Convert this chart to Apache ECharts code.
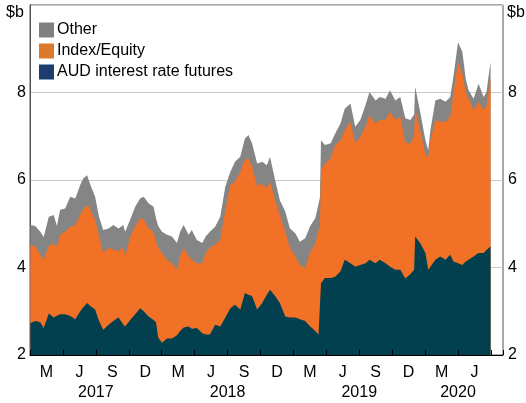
<!DOCTYPE html>
<html>
<head>
<meta charset="utf-8">
<script src="https://cdn.jsdelivr.net/npm/echarts@6/dist/echarts.min.js"></script>
<style>
    html, body { margin: 0; padding: 0; background: #fff; }
    #chart { width: 526px; height: 403px; }
</style>
</head>
<body>
<div id="chart"></div>
<script>
    // $b (AUD at bottom, Index/Equity on top, Other on top of that)
    var dates = [
        '2017-01-02', '2017-01-16', '2017-01-30', '2017-02-08', '2017-02-21', '2017-03-06', '2017-03-15', '2017-03-24',
        '2017-04-07', '2017-04-21', '2017-05-05', '2017-05-19', '2017-05-28', '2017-06-07', '2017-06-16', '2017-06-29',
        '2017-07-10', '2017-07-22', '2017-08-06', '2017-08-19', '2017-09-03', '2017-09-16', '2017-09-21', '2017-10-05',
        '2017-10-19', '2017-11-02', '2017-11-12', '2017-11-25', '2017-12-09', '2017-12-16', '2017-12-22', '2018-01-02',
        '2018-01-16', '2018-01-30', '2018-02-12', '2018-02-20', '2018-03-01', '2018-03-15', '2018-03-24', '2018-04-07',
        '2018-04-22', '2018-05-01', '2018-05-13', '2018-05-28', '2018-06-11', '2018-06-25', '2018-07-09', '2018-07-22',
        '2018-08-06', '2018-08-19', '2018-08-29', '2018-09-08', '2018-09-22', '2018-10-06', '2018-10-19', '2018-10-28',
        '2018-11-11', '2018-11-24', '2018-12-09', '2018-12-22', '2019-01-07', '2019-01-19', '2019-02-03', '2019-02-16',
        '2019-03-01', '2019-03-10', '2019-03-14', '2019-03-17', '2019-03-28', '2019-04-13', '2019-04-25', '2019-05-10',
        '2019-05-22', '2019-06-07', '2019-06-20', '2019-07-04', '2019-07-19', '2019-07-30', '2019-08-16', '2019-08-28',
        '2019-09-13', '2019-09-25', '2019-10-10', '2019-10-24', '2019-11-07', '2019-11-21', '2019-12-01', '2019-12-04',
        '2019-12-18', '2020-01-02', '2020-01-10', '2020-01-16', '2020-01-30', '2020-02-12', '2020-02-26', '2020-03-10',
        '2020-03-19', '2020-04-01', '2020-04-13', '2020-04-22', '2020-04-30', '2020-05-14', '2020-05-28', '2020-06-11',
        '2020-06-19', '2020-06-23', '2020-06-30'
    ];
    var aud = [
        2.73, 2.78, 2.75, 2.62, 2.95, 2.86, 2.90, 2.93,
        2.93, 2.89, 2.82, 3.00, 3.10, 3.19, 3.12, 3.04,
        2.78, 2.58, 2.69, 2.78, 2.86, 2.70, 2.65, 2.80,
        2.93, 3.07, 3.00, 2.88, 2.80, 2.75, 2.40, 2.28,
        2.38, 2.38, 2.45, 2.55, 2.63, 2.65, 2.60, 2.62,
        2.50, 2.47, 2.47, 2.69, 2.65, 2.86, 3.07, 3.15,
        3.04, 3.42, 3.38, 3.35, 3.04, 3.19, 3.38, 3.49,
        3.35, 3.19, 2.88, 2.86, 2.86, 2.82, 2.78, 2.65,
        2.55, 2.47, 2.50, 3.64, 3.76, 3.76, 3.79, 3.91,
        4.18, 4.10, 4.02, 4.06, 4.10, 4.18, 4.10, 4.18,
        4.10, 4.02, 3.95, 3.95, 3.75, 3.85, 3.95, 4.71,
        4.56, 4.33, 3.95, 4.02, 4.18, 4.25, 4.18, 4.29,
        4.14, 4.10, 4.06, 4.14, 4.18, 4.25, 4.33, 4.33,
        4.40, 4.44, 4.48
    ];
    var indexEquity = [
        1.79, 1.70, 1.54, 1.56, 1.55, 1.69, 1.58, 1.82,
        1.89, 2.04, 2.15, 2.20, 2.25, 2.24, 2.20, 2.05,
        1.93, 1.75, 1.76, 1.63, 1.51, 1.78, 1.60, 1.91,
        2.00, 2.06, 2.09, 2.01, 2.02, 1.85, 2.05, 2.05,
        1.80, 1.72, 1.50, 1.70, 1.82, 1.60, 1.58, 1.48,
        1.60, 1.86, 1.98, 1.83, 1.98, 2.46, 2.82, 2.81,
        3.15, 3.04, 3.12, 2.96, 2.81, 2.73, 2.43, 2.47,
        2.19, 2.01, 1.94, 1.59, 1.39, 1.24, 1.21, 1.70,
        2.00, 2.39, 2.45, 2.59, 2.62, 2.74, 3.01, 3.00,
        2.96, 3.23, 2.82, 2.93, 3.12, 3.30, 3.19, 3.19,
        3.27, 3.54, 3.42, 3.50, 3.10, 2.99, 3.05, 2.92,
        2.58, 2.24, 2.58, 2.89, 3.19, 3.08, 3.15, 3.15,
        3.84, 4.60, 4.37, 3.87, 3.68, 3.35, 3.46, 3.27,
        3.31, 3.50, 3.84
    ];
    var other = [
        0.45, 0.47, 0.53, 0.52, 0.66, 0.65, 0.47, 0.57,
        0.53, 0.69, 0.61, 0.69, 0.69, 0.68, 0.57, 0.53,
        0.45, 0.53, 0.44, 0.56, 0.52, 0.49, 0.57, 0.38,
        0.46, 0.45, 0.53, 0.58, 0.57, 0.52, 0.50, 0.49,
        0.57, 0.61, 0.61, 0.57, 0.52, 0.50, 0.68, 0.53,
        0.46, 0.38, 0.37, 0.41, 0.53, 0.53, 0.30, 0.46,
        0.34, 0.49, 0.53, 0.53, 0.53, 0.50, 0.53, 0.57,
        0.46, 0.34, 0.46, 0.45, 0.53, 0.53, 0.68, 0.60,
        0.58, 0.59, 0.65, 0.68, 0.42, 0.34, 0.26, 0.38,
        0.49, 0.42, 0.38, 0.38, 0.50, 0.53, 0.53, 0.53,
        0.49, 0.49, 0.45, 0.45, 0.56, 0.53, 0.50, 0.50,
        0.42, 0.34, 0.15, 0.23, 0.45, 0.53, 0.46, 0.46,
        0.38, 0.45, 0.50, 0.31, 0.19, 0.26, 0.41, 0.30,
        0.30, 0.34, 0.38
    ];
    var quarterLabels = ['M', 'J', 'S', 'D'];
    var yearLabels = ['2017', '2018', '2019', '2020'];

    var startYear = 2017;
    var axisEnd = 43.1; // months after Jan 2017

    // date string -> months since 1 Jan 2017
    function toMonths(d) {
        var p = d.split('-');
        var y = +p[0], m = +p[1], day = +p[2];
        var dim = new Date(y, m, 0).getDate();
        return (y - startYear) * 12 + (m - 1) + (day - 1) / dim;
    }

    // running total of the given layers, as [x, y] pairs
    function stacked(layers) {
        var out = [];
        for (var i = 0; i < dates.length; i++) {
            var s = 0;
            for (var k = 0; k < layers.length; k++) s += layers[k][i];
            out.push([toMonths(dates[i]), +s.toFixed(2)]);
        }
        return out;
    }

    var lastMonth = Math.ceil(toMonths(dates[dates.length - 1]) / 3) * 3;
    var yearAt = {};
    for (var i = 0; i < yearLabels.length; i++) {
        var s = Math.max(0, (+yearLabels[i] - startYear) * 12);
        var e = Math.min(lastMonth, s + 12);
        yearAt[(s + e) / 2] = yearLabels[i];
    }

    var font = 'Liberation Sans, Arial, sans-serif';
    var colAud = '#02404f', colIdx = '#f17126', colOther = '#858585';

    function area(name, color, data) {
        return {
            name: name, type: 'line', symbol: 'none', color: color,
            lineStyle: {width: 0},
            areaStyle: {color: color, opacity: 1, origin: 'start'},
            data: data
        };
    }

    var chart = echarts.init(document.getElementById('chart'));
    chart.setOption({
        animation: false,
        textStyle: {fontFamily: font},
        grid: {
            left: 30, right: 23, top: 5, bottom: 48,
            show: true, borderColor: '#555', borderWidth: 1
        },
        legend: {
            orient: 'vertical',
            left: 34,
            top: 17,
            icon: 'rect',
            itemWidth: 15,
            itemHeight: 15,
            itemGap: 5,
            textStyle: {fontSize: 16, color: '#000', fontFamily: font, padding: [0, 0, 0, -2]},
            data: [
                {name: 'Other', itemStyle: {color: '#808080'}},
                {name: 'Index/Equity', itemStyle: {color: '#d97a2e'}},
                {name: 'AUD interest rate futures', itemStyle: {color: '#1b3e6e'}}
            ]
        },
        xAxis: [
            {
                type: 'value', min: 0, max: axisEnd, interval: 3,
                axisLine: {lineStyle: {color: '#000', width: 1}},
                axisTick: {show: true, inside: true, length: 5, lineStyle: {color: '#000'}},
                axisLabel: {show: false},
                splitLine: {show: false},
                z: 5
            },
            {
                type: 'value', min: 0, max: axisEnd, interval: 1.5, position: 'bottom',
                axisLine: {show: false}, axisTick: {show: false}, splitLine: {show: false},
                axisLabel: {
                    fontSize: 16, color: '#000', margin: 10, hideOverlap: false,
                    formatter: function (v) {
                        if (Math.abs(v % 3 - 1.5) > 0.01) return '';
                        return quarterLabels[Math.round((v - 1.5) / 3) % 4];
                    }
                }
            },
            {
                type: 'value', min: 0, max: axisEnd, interval: 3, position: 'bottom', offset: 19,
                axisLine: {show: false}, axisTick: {show: false}, splitLine: {show: false},
                axisLabel: {
                    fontSize: 16, color: '#000', margin: 11, hideOverlap: false,
                    formatter: function (v) { return yearAt[v] || ''; }
                }
            }
        ],
        yAxis: [
            {
                type: 'value', min: 2, max: 10, interval: 2, position: 'left',
                axisLine: {show: true, lineStyle: {color: '#000'}},
                axisTick: {show: false},
                axisLabel: {fontSize: 16, color: '#000', margin: 4,
                    formatter: function (v) { return v === 10 ? '' : v; }},
                splitLine: {lineStyle: {color: '#c8c8c8', width: 1}}
            },
            {
                type: 'value', min: 2, max: 10, interval: 2, position: 'right',
                axisLine: {show: true, lineStyle: {color: '#555'}},
                axisTick: {show: false},
                axisLabel: {fontSize: 16, color: '#000', margin: 5,
                    formatter: function (v) { return v === 10 ? '' : v; }},
                splitLine: {show: false}
            }
        ],
        graphic: [
            {type: 'text', left: 6, top: 5, style: {text: '$b', font: '16px ' + font, fill: '#000'}},
            {type: 'text', left: 507, top: 5, style: {text: '$b', font: '16px ' + font, fill: '#000'}}
        ],
        // drawn back to front: each area is the running total down to the axis
        series: [
            area('Other', colOther, stacked([aud, indexEquity, other])),
            area('Index/Equity', colIdx, stacked([aud, indexEquity])),
            area('AUD interest rate futures', colAud, stacked([aud]))
        ]
    });
</script>
</body>
</html>
